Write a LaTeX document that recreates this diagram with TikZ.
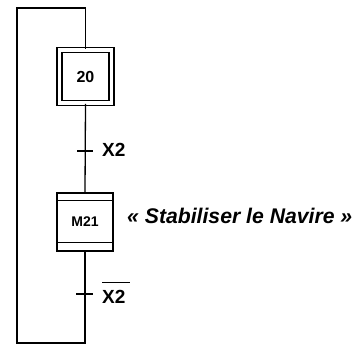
\documentclass[tikz,border=0pt]{standalone}
\usepackage{fontspec}
\setmainfont{Liberation Sans}
\usetikzlibrary{positioning}
\tikzset{
    liaison/.style={line width=1.3pt},
    etapeInit/.style={
        rectangle,
        draw,
        line width=1.2pt,
        double,
        double distance=3.8pt,
        minimum width=52pt,
        minimum height=53.5pt,
        inner sep=0pt,
        font=\bfseries\fontsize{16}{16}\selectfont
    },
    etape/.style={
        rectangle,
        draw,
        line width=1.3pt,
        minimum width=56pt,
        minimum height=58pt,
        inner sep=0pt,
        font=\bfseries\fontsize{14}{14}\selectfont
    },
    receptivite/.style={anchor=west, inner sep=0pt, font=\bfseries\fontsize{19}{19}\selectfont},
    action/.style={anchor=west, inner sep=0pt, font=\bfseries\itshape\fontsize{21.2}{21.2}\selectfont}
}

\begin{document}
\begin{tikzpicture}[x=1pt, y=-1pt]
    \useasboundingbox (0,0) rectangle (358,345);

    % etapes
    \node[etapeInit] (e20) at (85.5,76.5) {20};
    \node[etape] (e21) at (85,222) {M21};
    \draw[liaison] ([yshift=-8pt]e21.north west) -- ([yshift=-8pt]e21.north east);
    \draw[liaison] ([yshift=9pt]e21.south west) -- ([yshift=9pt]e21.south east);

    % action
    \node[action] (a21) at (127,215.5) {« Stabiliser le Navire »};

    % transitions
    \coordinate (t1) at (85,151);
    \coordinate (t2) at (85,294);
    \coordinate (bas) at (85,343);
    \coordinate (haut) at (17,8);

    \draw[liaison] (e20.south) -- (e21.north);
    \draw[liaison] (e21.south) -- (bas) -| (haut) -| (e20.north);

    \draw[liaison] ([xshift=-8pt]t1) -- ([xshift=8pt]t1);
    \draw[liaison] ([xshift=-9pt]t2) -- ([xshift=8pt]t2);

    \node[receptivite] (r1) at (102,150) {X2};
    \node[receptivite] (r2) at (102,297) {X2};
    \draw[line width=1.2pt] ([yshift=8pt]r2.north west) -- ([yshift=8pt,xshift=4pt]r2.north east);

\end{tikzpicture}
\end{document}
